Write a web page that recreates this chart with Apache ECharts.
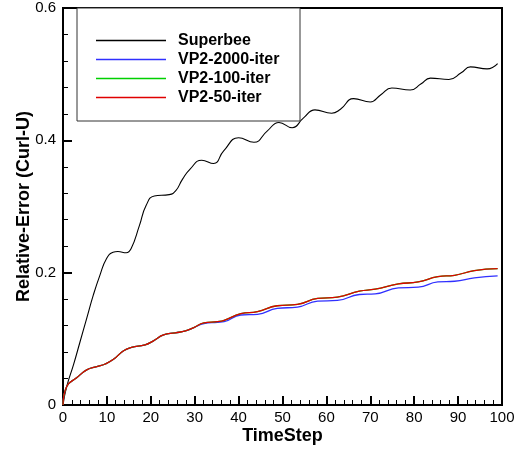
<!DOCTYPE html>
<html>
<head>
<meta charset="utf-8">
<script src="https://cdn.jsdelivr.net/npm/echarts@6/dist/echarts.min.js"></script>
<style>
  html, body { margin: 0; padding: 0; background: #fff; }
  #chart { width: 520px; height: 450px; }
</style>
</head>
<body>
<div id="chart"></div>
<script>
// Relative error of curl(U) against time step for the four schemes
const seriesNames = ['Superbee', 'VP2-2000-iter', 'VP2-100-iter', 'VP2-50-iter'];
const seriesColors = ['#000000', '#3030ff', '#00d000', '#e00000'];

const stepsSuperbee = [0, 0.85, 2.4, 3.9, 5.4, 6.9, 8.4, 9.9, 11.4, 12.5, 14.4, 15.5, 17.4, 18.9, 20.8, 24.2, 25.7, 27.2, 29, 31.6, 34.3, 36.6, 40, 43.5, 46.5, 49.2, 52.2, 54.8, 57.4, 61.2, 63.2, 66.2, 70, 72.4, 74.9, 79.1, 81.5, 83.7, 87.9, 90.7, 92.8, 96.6, 99];
const errSuperbee = [0, 0.028, 0.061, 0.096, 0.131, 0.166, 0.196, 0.221, 0.231, 0.232, 0.230, 0.236, 0.271, 0.301, 0.316, 0.318, 0.324, 0.341, 0.357, 0.370, 0.365, 0.384, 0.404, 0.397, 0.414, 0.427, 0.419, 0.434, 0.446, 0.441, 0.447, 0.463, 0.458, 0.469, 0.479, 0.476, 0.485, 0.494, 0.492, 0.502, 0.511, 0.508, 0.516];

const stepsVP2 = [0, 0.85, 3.1, 5.4, 7.7, 9.6, 11.5, 13.8, 15.6, 18.7, 20.6, 22.9, 25.6, 27.9, 29.8, 32.1, 35.2, 36.7, 40.5, 44.3, 48.8, 53.4, 58, 62.5, 67.5, 71.1, 76.4, 80.9, 85.4, 89.2, 93.7, 99];
const errVP2Iter2000 = [0, 0.028, 0.041, 0.053, 0.058, 0.062, 0.069, 0.082, 0.087, 0.091, 0.097, 0.106, 0.109, 0.112, 0.117, 0.123, 0.125, 0.126, 0.136, 0.137, 0.146, 0.148, 0.157, 0.158, 0.167, 0.168, 0.177, 0.178, 0.186, 0.187, 0.192, 0.195];
const errVP2Iter100 = [0, 0.028, 0.041, 0.053, 0.058, 0.062, 0.069, 0.082, 0.087, 0.091, 0.097, 0.106, 0.109, 0.112, 0.117, 0.124, 0.126, 0.128, 0.138, 0.141, 0.150, 0.152, 0.161, 0.163, 0.172, 0.175, 0.183, 0.186, 0.194, 0.196, 0.203, 0.206];
const errVP2Iter50 = [0, 0.028, 0.041, 0.053, 0.058, 0.062, 0.069, 0.082, 0.087, 0.091, 0.097, 0.106, 0.109, 0.112, 0.117, 0.124, 0.126, 0.128, 0.138, 0.141, 0.150, 0.152, 0.161, 0.163, 0.172, 0.175, 0.183, 0.186, 0.194, 0.196, 0.203, 0.206];

const xTicks = { min: 0, max: 100, interval: 10 };
const yTicks = { min: 0, max: 0.6, interval: 0.2 };

const pair = (xs, ys) => xs.map((x, i) => [x, ys[i]]);
const seriesData = [
  pair(stepsSuperbee, errSuperbee),
  pair(stepsVP2, errVP2Iter2000),
  pair(stepsVP2, errVP2Iter100),
  pair(stepsVP2, errVP2Iter50)
];

const FONT = '"Liberation Sans", Arial, Helvetica, sans-serif';

const chart = echarts.init(document.getElementById('chart'), null, { renderer: 'canvas' });

const axisCommon = {
  type: 'value',
  nameLocation: 'middle',
  nameMoveOverlap: false,
  nameTextStyle: { fontFamily: FONT, fontWeight: 'bold', fontSize: 18, color: '#000' },
  axisLine: { show: true, lineStyle: { color: '#000', width: 2 } },
  axisTick: { show: true, inside: true, length: 9, lineStyle: { color: '#000', width: 2 } },
  minorTick: { show: true, splitNumber: 5, length: 5, lineStyle: { color: '#000', width: 1 } },
  splitLine: { show: false },
  axisLabel: { fontFamily: FONT, fontSize: 15, color: '#000' }
};

chart.setOption({
  animation: false,
  backgroundColor: '#fff',
  grid: {
    left: 63, right: 18, top: 8, bottom: 43,
    show: true, borderColor: '#000', borderWidth: 2, backgroundColor: 'transparent'
  },
  xAxis: Object.assign({}, axisCommon, {
    min: xTicks.min, max: xTicks.max, interval: xTicks.interval,
    name: 'TimeStep', nameGap: 22,
    axisLabel: Object.assign({}, axisCommon.axisLabel, { margin: 5 })
  }),
  yAxis: Object.assign({}, axisCommon, {
    min: yTicks.min, max: yTicks.max, interval: yTicks.interval,
    name: 'Relative-Error (Curl-U)', nameGap: 30,
    axisLabel: Object.assign({}, axisCommon.axisLabel, {
      margin: 7,
      formatter: v => (v === 0 ? '0' : String(Math.round(v * 10) / 10))
    })
  }),
  graphic: [{
    type: 'rect',
    shape: { x: 77, y: 8, width: 223, height: 113 },
    style: { fill: '#fff', stroke: '#333', lineWidth: 1 },
    z: 5
  }],
  legend: {
    orient: 'vertical',
    left: 96, top: 31,
    padding: 0,
    icon: 'rect',
    itemWidth: 70, itemHeight: 1.5, itemGap: 0,
    data: seriesNames.map((name, i) => ({
      name: name,
      itemStyle: { color: seriesColors[i], borderColor: seriesColors[i], borderWidth: 0, opacity: 1 },
      lineStyle: { color: seriesColors[i], width: 0 }
    })),
    textStyle: { fontFamily: FONT, fontWeight: 'bold', fontSize: 16, lineHeight: 19, color: '#000', padding: [0, 0, 0, 7] },
    z: 10
  },
  series: seriesNames.map((name, i) => ({
    name: name,
    type: 'line',
    data: seriesData[i],
    smooth: 0.5,
    symbol: 'none',
    itemStyle: { color: seriesColors[i], borderColor: seriesColors[i] },
    lineStyle: { color: seriesColors[i], width: i === 0 ? 1.1 : 1.3 },
    z: 2 + i
  }))
});
</script>
</body>
</html>
